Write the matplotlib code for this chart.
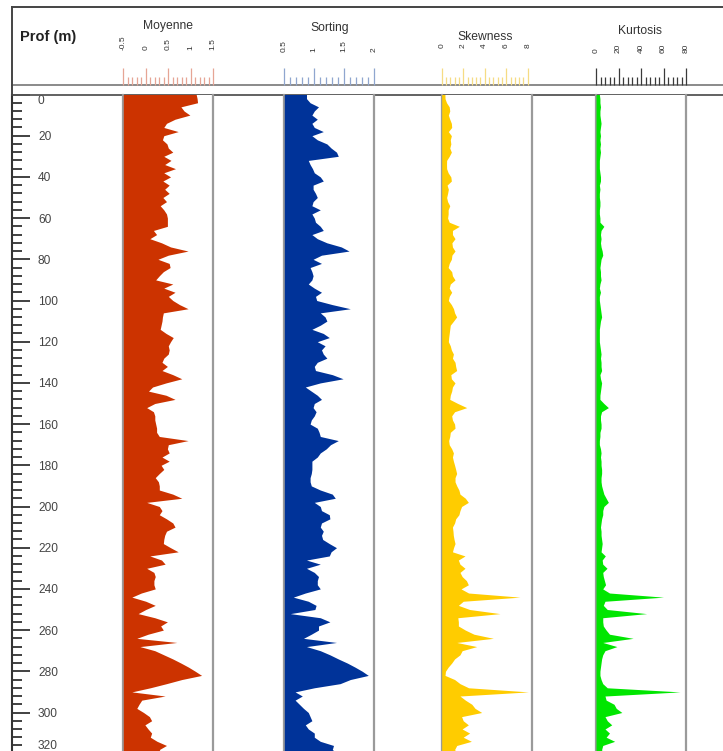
import numpy as np
import matplotlib
matplotlib.use("Agg")
import matplotlib.pyplot as plt
from matplotlib.lines import Line2D
from matplotlib.ticker import MultipleLocator
from matplotlib.transforms import ScaledTranslation

plt.rcParams["font.family"] = ["Liberation Sans", "DejaVu Sans"]

depth = np.arange(0, 321, 2)

moyenne = [
    1.12, 1.14, 1.15, 0.78, 0.85, 0.98, 0.65, 0.46, 0.40, 0.72,
    0.40, 0.37, 0.47, 0.50, 0.60, 0.40, 0.56, 0.42, 0.66, 0.40,
    0.55, 0.38, 0.52, 0.42, 0.52, 0.38, 0.46, 0.32, 0.40, 0.46,
    0.48, 0.48, 0.48, 0.17, 0.24, 0.09, 0.35, 0.55, 0.94, 0.50,
    0.27, 0.52, 0.54, 0.39, 0.30, 0.22, 0.60, 0.40, 0.65, 0.50,
    0.60, 0.75, 0.94, 0.39, 0.37, 0.36, 0.34, 0.32, 0.45, 0.61,
    0.55, 0.50, 0.52, 0.50, 0.40, 0.36, 0.48, 0.36, 0.60, 0.80,
    0.45, 0.15, 0.06, 0.45, 0.65, 0.20, 0.02, 0.17, 0.20, 0.20,
    0.22, 0.24, 0.24, 0.30, 0.94, 0.50, 0.48, 0.52, 0.36, 0.52,
    0.34, 0.40, 0.30, 0.21, 0.28, 0.30, 0.30, 0.60, 0.80, 0.02,
    0.30, 0.36, 0.30, 0.46, 0.60, 0.65, 0.46, 0.42, 0.40, 0.39,
    0.55, 0.72, 0.09, 0.35, 0.43, 0.02, 0.18, 0.21, 0.18, 0.18,
    0.21, -0.10, -0.31, 0.00, 0.21, 0.00, -0.17, 0.20, 0.48, 0.33,
    0.39, 0.05, -0.20, 0.69, -0.13, 0.20, 0.40, 0.60, 0.78, 0.95,
    1.10, 1.24, 0.80, 0.46, 0.10, -0.31, 0.43, -0.09, -0.15, -0.20,
    -0.05, 0.08, 0.13, -0.02, 0.05, 0.13, 0.10, 0.25, 0.46, 0.30,
    0.35,
]

sorting = [
    0.87, 0.87, 0.93, 1.07, 1.00, 0.96, 1.05, 0.96, 1.00, 1.15,
    0.96, 1.05, 1.21, 1.28, 1.37, 1.40, 0.90, 0.93, 0.97, 1.00,
    1.10, 1.15, 0.98, 0.98, 1.02, 1.05, 0.98, 0.96, 1.10, 0.96,
    1.00, 1.02, 1.10, 1.15, 0.96, 1.05, 1.21, 1.45, 1.58, 1.12,
    0.98, 1.12, 0.93, 0.96, 0.98, 0.96, 0.90, 1.00, 1.12, 1.02,
    1.04, 1.30, 1.60, 1.10, 1.18, 1.21, 1.10, 0.96, 1.15, 1.25,
    1.05, 1.18, 1.12, 1.15, 1.21, 1.05, 1.00, 1.02, 1.30, 1.48,
    1.10, 0.85, 0.95, 1.05, 1.12, 1.00, 0.98, 1.03, 1.00, 0.95,
    0.93, 1.05, 1.08, 1.10, 1.40, 1.27, 1.20, 1.10, 1.05, 0.96,
    0.96, 0.96, 0.95, 0.93, 0.93, 0.95, 1.10, 1.30, 1.35, 1.00,
    1.10, 1.12, 1.25, 1.26, 1.12, 1.10, 1.15, 1.12, 1.14, 1.25,
    1.37, 1.28, 1.25, 0.87, 1.10, 0.87, 1.00, 1.07, 1.05, 1.05,
    1.10, 0.85, 0.65, 0.90, 1.03, 1.01, 0.60, 1.10, 1.26, 1.07,
    1.07, 0.95, 0.82, 1.37, 0.87, 1.10, 1.26, 1.40, 1.55, 1.68,
    1.80, 1.90, 1.60, 1.43, 1.00, 0.68, 0.80, 0.68, 0.75, 0.82,
    0.90, 0.93, 0.96, 0.85, 0.90, 1.00, 1.00, 1.10, 1.32, 1.30,
    1.40,
]

skewness = [
    0.30, 0.31, 0.45, 0.70, 0.75, 0.62, 0.75, 0.90, 0.93, 0.62,
    0.90, 0.80, 0.85, 0.75, 0.90, 0.70, 0.46, 0.45, 0.46, 0.60,
    0.85, 0.90, 0.50, 0.62, 0.55, 0.46, 0.55, 0.75, 0.60, 0.60,
    0.55, 0.70, 1.64, 1.00, 1.00, 1.24, 0.95, 1.00, 1.24, 0.95,
    0.90, 0.70, 0.60, 0.93, 1.00, 1.24, 0.80, 0.70, 0.93, 0.70,
    0.62, 0.90, 1.10, 1.20, 1.39, 1.10, 0.80, 0.75, 0.70, 0.65,
    0.62, 0.80, 0.90, 1.09, 1.00, 1.24, 1.30, 1.39, 0.85, 0.90,
    1.24, 1.00, 0.93, 0.80, 0.75, 1.50, 2.33, 1.20, 0.93, 1.00,
    1.20, 1.24, 0.80, 0.75, 0.65, 0.70, 0.93, 1.09, 1.00, 1.09,
    1.20, 1.30, 1.39, 1.24, 1.24, 1.40, 1.60, 1.70, 2.20, 2.48,
    1.85, 1.70, 1.60, 1.30, 1.20, 1.00, 1.05, 1.08, 1.15, 1.24,
    1.10, 1.00, 2.17, 1.55, 1.70, 2.17, 1.70, 1.90, 2.30, 2.48,
    1.80, 2.50, 7.28, 2.00, 1.55, 2.60, 5.42, 1.50, 1.55, 1.55,
    2.20, 3.00, 4.80, 1.40, 3.26, 1.90, 1.70, 1.20, 0.93, 0.60,
    0.35, 0.31, 1.20, 1.70, 2.50, 8.06, 1.70, 2.20, 2.80, 3.10,
    3.72, 1.85, 2.00, 2.48, 1.90, 2.60, 2.00, 2.76, 1.40, 1.20,
    1.50,
]

kurtosis = [
    3.0, 3.5, 3.5, 4.0, 3.5, 3.5, 4.0, 4.5, 4.0, 3.5,
    4.0, 3.5, 4.0, 3.5, 4.0, 3.5, 3.0, 3.0, 3.0, 3.5,
    4.0, 4.0, 3.0, 3.5, 3.0, 3.0, 3.5, 3.5, 3.0, 3.0,
    3.5, 3.5, 7.0, 4.5, 4.0, 4.5, 4.0, 4.5, 5.5, 6.0,
    4.5, 4.0, 3.5, 4.0, 4.0, 4.5, 3.5, 3.0, 4.0, 3.0,
    3.0, 3.5, 4.0, 4.5, 5.0, 4.0, 3.5, 3.0, 3.0, 3.0,
    3.0, 3.5, 4.0, 4.5, 4.0, 4.5, 4.5, 5.0, 3.5, 4.0,
    5.0, 4.5, 4.0, 3.5, 3.5, 7.0, 11.0, 5.0, 4.0, 4.0,
    4.5, 4.5, 3.5, 3.5, 3.0, 3.0, 4.0, 4.5, 4.0, 4.5,
    4.5, 5.0, 5.0, 4.5, 4.5, 5.0, 6.0, 7.0, 9.0, 11.0,
    7.0, 6.0, 6.0, 5.0, 4.5, 4.0, 4.5, 4.5, 5.0, 5.5,
    5.0, 4.5, 8.3, 5.5, 6.0, 9.8, 6.0, 6.5, 7.5, 8.5,
    6.0, 12.0, 60.0, 8.0, 6.5, 10.0, 45.0, 6.0, 6.0, 6.5,
    9.0, 12.0, 33.0, 6.0, 18.6, 8.0, 6.0, 5.0, 4.5, 4.0,
    3.5, 3.5, 4.5, 6.0, 10.0, 74.7, 8.0, 9.0, 16.0, 18.0,
    23.0, 8.0, 10.0, 14.0, 8.0, 12.0, 9.0, 16.6, 6.0, 5.0,
    6.0,
]

titles = ["Moyenne", "Sorting", "Skewness", "Kurtosis"]
series = [moyenne, sorting, skewness, kurtosis]
xlims = [(-0.5, 1.5), (0.5, 2.0), (0.0, 8.37), (0.0, 80.0)]
major_ticks = [[-0.5, 0, 0.5, 1, 1.5], [0.5, 1, 1.5, 2], [0, 2, 4, 6, 8], [0, 20, 40, 60, 80]]
major_labels = [["-0.5", "0", "0.5", "1", "1.5"], ["0.5", "1", "1.5", "2"],
                ["0", "2", "4", "6", "8"], ["0", "20", "40", "60", "80"]]
minor_step = [0.1, 0.1, 0.4, 4]
depth_ticks = list(range(0, 321, 20))

# ---- layout (pixels of the 723x751 picture) ----
W, H = 723, 751
track_left = [123.3, 284.3, 441.7, 596.0]
track_w = 90
title_y = [25.5, 28.0, 36.5, 31.0]
title_x_off = [0, 0, -2, -1]
label_base = [53, 55, 51, 56]
fill_colors = ["#cc3300", "#003399", "#ffcc00", "#00e600"]
tick_colors = ["#e6a595", "#8fa6cf", "#f6dc84", "#3a3a3a"]
top_px = 94.5
bottom_px = top_px + 320 * 2.06


def box(x0, y0, x1, y1):
    return [x0 / W, 1 - y1 / H, (x1 - x0) / W, (y1 - y0) / H]


fig = plt.figure(figsize=(W / 100, H / 100), dpi=100)

# header box
hd = fig.add_axes(box(12, 7, 740, 85))
hd.set_xticks([])
hd.set_yticks([])
hd.spines["right"].set_visible(False)
hd.spines["top"].set_color("#444444")
hd.spines["top"].set_linewidth(1.4)
hd.spines["left"].set_color("#444444")
hd.spines["left"].set_linewidth(1.4)
hd.spines["bottom"].set_color("#8a8a8a")
hd.spines["bottom"].set_linewidth(1.4)
fig.add_artist(Line2D([12 / W, 12 / W], [1 - 85 / H, 1 - top_px / H], color="#444444", lw=1.4))

fig.text(20 / W, 1 - 36.5 / H, "Prof (m)", fontsize=10.5, fontweight="bold",
         ha="left", va="center", color="#222222")

# depth frame
fr = fig.add_axes(box(12, top_px, 740, bottom_px))
fr.set_xlim(0, 1)
fr.set_ylim(320, 0)
fr.set_xticks([])
fr.spines["right"].set_visible(False)
fr.spines["bottom"].set_visible(False)
fr.spines["left"].set_color("#333333")
fr.spines["left"].set_linewidth(1.5)
fr.spines["top"].set_color("#555555")
fr.spines["top"].set_linewidth(1.3)
fr.set_yticks(depth_ticks, [str(d) for d in depth_ticks], ha="left")
fr.yaxis.set_minor_locator(MultipleLocator(4))
fr.tick_params(axis="y", which="both", direction="in", color="#333333", width=1.3)
fr.tick_params(axis="y", which="major", length=13, pad=-18.7, labelsize=8.6, labelcolor="#444444")
fr.tick_params(axis="y", which="minor", length=7.2)
labs = fr.get_yticklabels()
labs[0].set_va("top")
labs[-1].set_va("bottom")
labs[-1].set_transform(labs[-1].get_transform() + ScaledTranslation(0, 1.5 / 72, fig.dpi_scale_trans))

for i in range(4):
    L = track_left[i]
    ax = fig.add_axes(box(L, top_px, L + track_w, bottom_px))
    ax.set_xlim(*xlims[i])
    ax.set_ylim(320, 0)
    ax.fill_betweenx(depth, xlims[i][0], series[i], color=fill_colors[i], lw=0, zorder=3)
    ax.set_xticks([])
    ax.set_yticks([])
    for s in ("top", "bottom"):
        ax.spines[s].set_visible(False)
    for s in ("left", "right"):
        ax.spines[s].set_color("#9a9a9a")
        ax.spines[s].set_linewidth(1.6)

    # scale in the header
    sx = fig.add_axes(box(L, label_base[i] - 1.4, L + track_w, 85))
    sx.patch.set_visible(False)
    for s in sx.spines.values():
        s.set_visible(False)
    sx.set_xlim(*xlims[i])
    sx.set_yticks([])
    sx.set_xticks(major_ticks[i], major_labels[i], rotation=90)
    sx.xaxis.set_minor_locator(MultipleLocator(minor_step[i]))
    sx.tick_params(axis="x", which="both", bottom=True, top=False, labelbottom=False,
                   labeltop=True, direction="in", color=tick_colors[i], width=0.9)
    sx.tick_params(axis="x", which="major", length=12.2, pad=1, labelsize=6, labelcolor="#333333")
    sx.tick_params(axis="x", which="minor", length=5.8)

    fig.text((L + track_w / 2 + title_x_off[i]) / W, 1 - title_y[i] / H, titles[i],
             fontsize=8.7, ha="center", va="center", color="#333333")

fig.savefig("out.png", dpi=100)
